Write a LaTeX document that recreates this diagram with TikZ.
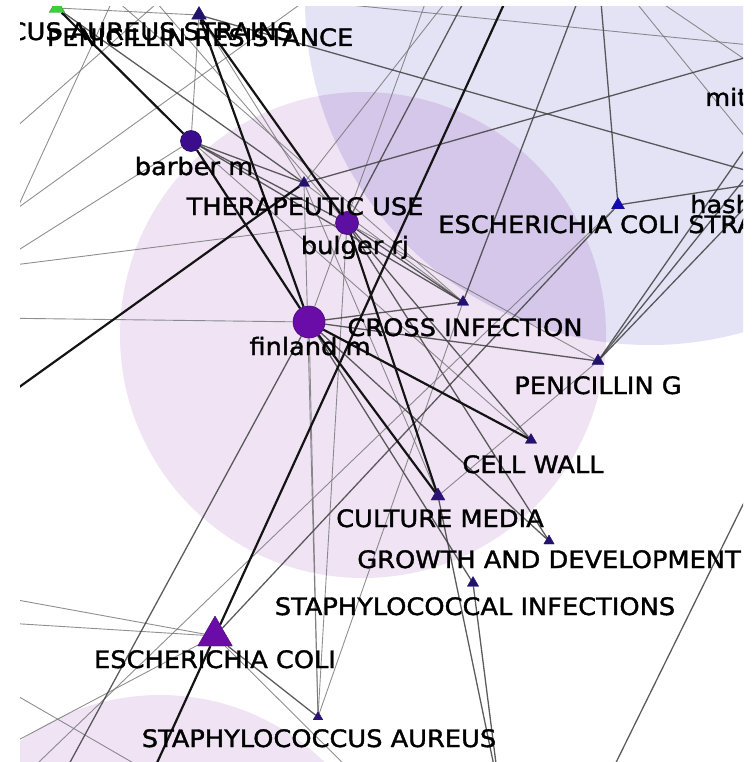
\documentclass[tikz,border=0pt]{standalone}
\usepackage{fontspec}
\setmainfont{DejaVu Sans}[FakeStretch=1.07,FakeBold=1.5]
\usetikzlibrary{shapes.geometric}
\definecolor{bluezone}{HTML}{E3E3F5}
\definecolor{pinkzone}{HTML}{EFE3F4}
\definecolor{mixzone}{HTML}{D4C7EA}
\definecolor{navy}{HTML}{22126E}
\definecolor{indigo}{HTML}{3B0C8C}
\definecolor{violet}{HTML}{5C0FA0}
\definecolor{grape}{HTML}{6A0CA8}
\definecolor{leaf}{HTML}{3CCF3C}
\pgfdeclarelayer{zones}
\pgfdeclarelayer{links}
\pgfsetlayers{zones,links,main}
\newcommand\frameclip{\clip (20,7) rectangle (743,762);}
\begin{document}
\begin{tikzpicture}[x=1pt,y=-1pt,line join=round,line cap=round,
	author/.style={circle,inner sep=0pt,fill=#1,draw=#1!70!black,line width=0.6pt},
	term/.style={regular polygon,regular polygon sides=3,inner sep=0pt,fill=navy,draw=navy,line width=0.4pt},
	lbl/.style={font=\fontsize{24}{24}\selectfont,anchor=base,inner sep=0pt},
	wlight/.style={draw=black!55,line width=0.9pt,opacity=0.8},
	wmid/.style={draw=black!75,line width=1.3pt,opacity=0.85},
	wheavy/.style={draw=black!92,line width=2.2pt}]
\useasboundingbox (0,0) rectangle (753,762);
\begin{scope}
\frameclip
% zones
\begin{pgfonlayer}{zones}
\begin{scope}
	\frameclip
	\fill[bluezone] (650,0) circle (345);
	\fill[pinkzone] (363,335) circle (243);
	\fill[pinkzone] (160,930) circle (235);
	\begin{scope}
		\clip (650,0) circle (345);
		\fill[mixzone] (363,335) circle (243);
	\end{scope}
\end{scope}
\end{pgfonlayer}
% nodes
\node[term,fill=leaf,draw=leaf!70!black,minimum size=18] (green) at (57,8) {};
\node[term,minimum size=17] (penres) at (199,15) {};
\node[author=indigo,minimum size=21] (barber) at (191,141) {};
\node[term,minimum size=13] (therap) at (304,183) {};
\node[author=violet,minimum size=23] (bulger) at (347,223) {};
\node[author=grape,minimum size=32] (finland) at (309,322) {};
\node[term,minimum size=13] (crossinf) at (463,302) {};
\node[term,fill=blue!50!navy,minimum size=15] (ecolistr) at (618,205) {};
\node[term,minimum size=14] (peng) at (598,361) {};
\node[term,minimum size=13] (cellwall) at (531,440) {};
\node[term,fill=navy!80!violet,minimum size=16] (culture) at (438,496) {};
\node[term,minimum size=12] (growth) at (549,541) {};
\node[term,minimum size=13] (staphinf) at (473,583) {};
\node[term,fill=grape,draw=grape!70!black,minimum size=40] (ecoli) at (215,636) {};
\node[term,fill=navy!80!violet,minimum size=11] (staphaur) at (318,717) {};
% ends outside the frame
\coordinate (oTopE) at (515,-20);
\coordinate (oTopF) at (600,-10);
\coordinate (oTopG) at (430,-10);
\coordinate (oTopF2) at (470,-10);
\coordinate (oTopL) at (455,-10);
\coordinate (oTopH) at (580,-5);
\coordinate (oTopB) at (115,-5);
\coordinate (oTopB2) at (110,-5);
\coordinate (oTopM) at (150,-5);
\coordinate (oTopC) at (320,-10);
\coordinate (oTopD) at (172,-10);
\coordinate (oTopI) at (250,-5);
\coordinate (oTopJ) at (630,-5);
\coordinate (oTopK) at (650,-5);
\coordinate (oLeftA) at (-10,268);
\coordinate (oLeftB) at (-10,318);
\coordinate (oLeftC) at (-10,408);
\coordinate (oLeftD) at (-10,228);
\coordinate (oLeftE) at (-10,150);
\coordinate (oLeftF) at (-10,680);
\coordinate (oLeftG) at (-10,755);
\coordinate (oLeft4) at (-10,595);
\coordinate (oLeft5) at (-10,622);
\coordinate (oHash) at (780,180);
\coordinate (oRA) at (800,50);
\coordinate (oRC) at (790,45);
\coordinate (oRD) at (800,70);
\coordinate (oRE) at (800,110);
\coordinate (oMit) at (800,150);
\coordinate (oRF) at (790,90);
\coordinate (oRG) at (760,470);
\coordinate (oBotE) at (140,800);
\coordinate (oBot3) at (500,795);
\coordinate (oBotL) at (15,785);
\coordinate (oBotF) at (55,790);
\coordinate (oBotG) at (600,795);
\coordinate (oBotH) at (380,800);
\coordinate (oBotI) at (180,790);
% links
\begin{pgfonlayer}{links}
\begin{scope}
	\frameclip
	\draw[wlight] (oLeftB) -- (finland);
	\draw[wlight] (oLeftA) -- (oTopB);
	\draw[wlight] (oLeftD) -- (oTopC);
	\draw[wlight] (oLeftE) -- (oTopD);
	\draw[wlight] (oTopJ) -- (oHash);
	\draw[wlight] (oTopK) -- (oRF);
	\draw[wlight] (oTopI) -- (oRA);
	\draw[wlight] (peng) -- (culture);
	\draw[wlight] (therap) -- (staphaur);
	\draw[wlight] (bulger) -- (staphaur);
	\draw[wlight] (crossinf) -- (staphaur);
	\draw[wlight] (oLeft4) -- (ecoli);
	\draw[wlight] (oLeft5) -- (ecoli);
	\draw[wlight] (ecoli) -- (oBotH);
	\draw[wlight] (finland) -- (oTopG);
	\draw[wmid] (bulger) -- (oTopF2);
	\draw[wlight] (therap) -- (oTopL);
	\draw[wlight] (therap) -- (crossinf);
	\draw[wlight] (bulger) -- (peng);
	\draw[wlight] (oLeftF) -- (oBotI);
	\draw[wlight] (oLeftG) -- (ecoli);
	\draw[wlight] (penres) -- (barber);
	\draw[wlight] (penres) -- (therap);
	\draw[wlight] (barber) -- (cellwall);
	\draw[wlight] (therap) -- (culture);
	\draw[wlight] (oTopB2) -- (crossinf);
	\draw[wlight] (oTopM) -- (bulger);
	\draw[wmid] (finland) -- (crossinf);
	\draw[wmid] (finland) -- (peng);
	\draw[wmid] (finland) -- (growth);
	\draw[wmid] (finland) -- (staphinf);
	\draw[wlight] (finland) -- (staphaur);
	\draw[wmid] (barber) -- (therap);
	\draw[wmid] (barber) -- (bulger);
	\draw[wmid] (barber) -- (crossinf);
	\draw[wmid] (bulger) -- (crossinf);
	\draw[wmid] (bulger) -- (cellwall);
	\draw[wmid] (bulger) -- (growth);
	\draw[wmid] (ecolistr) -- (oTopF);
	\draw[wmid] (ecolistr) -- (oHash);
	\draw[wmid] (penres) -- (oHash);
	\draw[wmid] (oRD) -- (peng);
	\draw[wmid] (oRE) -- (peng);
	\draw[wmid] (oMit) -- (peng);
	\draw[wmid] (culture) -- (oBot3);
	\draw[wmid] (staphinf) -- (oBot3);
	\draw[wmid] (ecoli) -- (staphaur);
	\draw[wlight] (oLeftA) -- (bulger);
	\draw[wlight] (oLeftA) -- (barber);
	\draw[wmid] (ecolistr) -- (ecoli);
	\draw[wlight] (ecolistr) -- (oBotL);
	\draw[wmid] (finland) -- (oBotF);
	\draw[wmid] (oRG) -- (oBotG);
	\draw[wmid] (green) -- (therap);
	\draw[wmid] (therap) -- (oRC);
	\draw[wmid] (oTopH) -- (crossinf);
	\draw[wlight] (green) -- (penres);
	\draw[wheavy] (green) -- (barber);
	\draw[wheavy] (penres) -- (finland);
	\draw[wheavy] (penres) -- (bulger);
	\draw[wheavy] (barber) -- (finland);
	\draw[wheavy] (bulger) -- (culture);
	\draw[wheavy] (ecoli) -- (oTopE);
	\draw[wheavy] (ecoli) -- (oBotE);
	\draw[wheavy] (oLeftC) -- (therap);
	\draw[wheavy] (finland) -- (cellwall);
	\draw[wheavy] (finland) -- (culture);
\end{scope}
\end{pgfonlayer}
% labels
\node[lbl] (greenL) at (57,40) {STAPHYLOCOCCUS AUREUS STRAINS};
\node[lbl] (penresL) at (200,46) {PENICILLIN RESISTANCE};
\node[lbl] (barberL) at (194,175) {barber m};
\node[lbl] (therapL) at (305,215) {THERAPEUTIC USE};
\node[lbl] (bulgerL) at (355,254) {bulger rj};
\node[lbl] (finlandL) at (310,355) {finland m};
\node[lbl] (crossinfL) at (465,336) {CROSS INFECTION};
\node[lbl] (ecolistrL) at (618,233) {ESCHERICHIA COLI STRAINS};
\node[lbl,anchor=base west] (hashL) at (690,213) {hash};
\node[lbl,anchor=base west] (mitL) at (705,106) {mit};
\node[lbl] (pengL) at (598,394) {PENICILLIN G};
\node[lbl] (cellwallL) at (533,473) {CELL WALL};
\node[lbl] (cultureL) at (440,527) {CULTURE MEDIA};
\node[lbl] (growthL) at (549,568) {GROWTH AND DEVELOPMENT};
\node[lbl] (staphinfL) at (475,615) {STAPHYLOCOCCAL INFECTIONS};
\node[lbl] (ecoliL) at (215,668) {ESCHERICHIA COLI};
\node[lbl] (staphaurL) at (319,747) {STAPHYLOCOCCUS AUREUS};
\end{scope}
\end{tikzpicture}
\end{document}
